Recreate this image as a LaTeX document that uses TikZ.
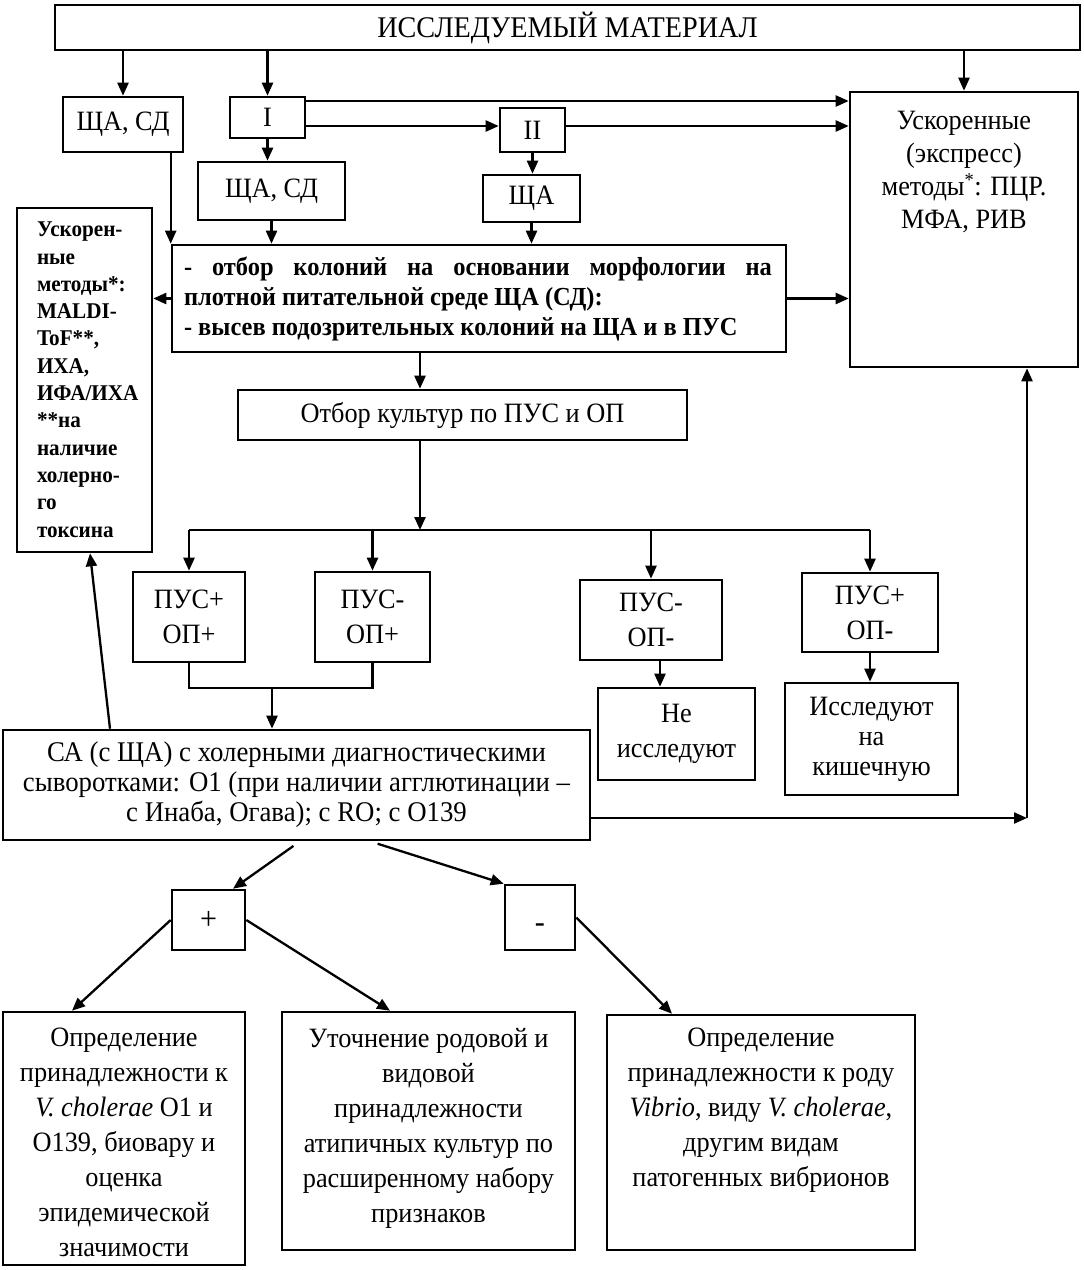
\documentclass[tikz,border=0pt]{standalone}
\usepackage{fontspec}
\setmainfont{Liberation Serif}[FakeStretch=0.94]
\usetikzlibrary{arrows.meta,calc}
\newcommand{\fs}{\fontsize{28}{33}\selectfont}
\begin{document}
\begin{tikzpicture}[x=1pt,y=-1pt,
  box/.style={draw, line width=2.6pt, inner sep=0pt, align=center, font=\fs},
  sbox/.style={draw, line width=2.6pt, inner sep=0pt, font=\fontsize{32}{34}\selectfont},
  arr/.style={line width=2.3pt, -{Triangle[length=13pt,width=11pt]}},
  ln/.style={line width=2.3pt}]
\useasboundingbox (0,0) rectangle (1084,1270);

% boxes
\node[box, minimum width=1025pt, minimum height=45pt, font=\fontsize{30}{34}\selectfont] (top) at (567.5,27.5) {ИССЛЕДУЕМЫЙ МАТЕРИАЛ};
\node[box, minimum width=120pt, minimum height=55pt] (sd1) at (123,124.5) {ЩА, СД};
\node[box, minimum width=75pt, minimum height=41pt] (one) at (267.5,117.5) {I};
\node[box, minimum width=65pt, minimum height=44pt] (two) at (532.5,130) {II};
\node[box, font=\fontsize{28}{33}\selectfont] (right) at (964,229.5) {\parbox[c][275pt][t]{228pt}{\centering\vspace*{19pt}Ускоренные\\(экспресс)\\методы\textsuperscript{*}: ПЦР.\\МФА, РИВ}};
\node[box, minimum width=147pt, minimum height=58pt] (sd2) at (271.5,191) {ЩА, СД};
\node[box, minimum width=97pt, minimum height=47pt] (shA) at (531.5,198.5) {ЩА};
\node[box, font=\bfseries\fontsize{26}{30}\selectfont] (big) at (479,298.5) {\parbox[c][107pt][c]{614pt}{\leftskip=12pt\rightskip=14pt\noindent - отбор колоний на основании морфологии на \linebreak плотной питательной среде ЩА (СД):\\- высев подозрительных колоний на ЩА и в ПУС}};
\node[box, font=\bfseries\fontsize{22.5}{27.3}\selectfont] (left) at (84.5,380) {\parbox[c][344pt][t]{135pt}{\raggedright\leftskip=20pt\vspace*{14pt}Ускорен-\\ные\\методы*:\\MALDI-\\ToF**,\\ИХА,\\ИФА/ИХА\\{}**на\\наличие\\холерно-\\го\\токсина}};
\node[box, minimum width=449pt, minimum height=50pt] (otbor) at (462.5,415) {Отбор культур по ПУС и ОП};
\node[box, minimum width=112pt, minimum height=90pt, font=\fontsize{28}{35}\selectfont] (p1) at (189,617) {ПУС+\\ОП+};
\node[box, minimum width=115pt, minimum height=90pt, font=\fontsize{28}{35}\selectfont] (p2) at (372.5,617) {ПУС-\\ОП+};
\node[box, minimum width=142pt, minimum height=80pt, font=\fontsize{28}{35}\selectfont] (p3) at (651,620) {ПУС-\\ОП-};
\node[box, minimum width=136pt, minimum height=79pt, font=\fontsize{28}{35}\selectfont] (p4) at (870,612.5) {ПУС+\\ОП-};
\node[box, minimum width=157pt, minimum height=92pt, font=\fontsize{28}{35}\selectfont] (ne) at (676.5,734) {Не\\исследуют};
\node[box, minimum width=173pt, minimum height=112pt, font=\fontsize{28}{30}\selectfont] (isl) at (871.5,739) {Исследуют\\на\\кишечную};
\node[box, minimum width=587pt, minimum height=110pt, font=\fontsize{28.5}{30}\selectfont] (ca) at (296.5,785) {СА (с ЩА) с холерными диагностическими\\сыворотками: О1 (при наличии агглютинации –\\с Инаба, Огава); с RO; с O139};
\node[sbox, minimum width=73pt, minimum height=60pt] (plus) at (208.5,920) {+};
\node[sbox, minimum width=70pt, minimum height=65pt, text height=29pt, text depth=0pt] (minus) at (540,917.5) {-};
\node[box, font=\fontsize{28}{35}\selectfont] (bA) at (124,1138.5) {\parbox[c][253pt][t]{242pt}{\centering\vspace*{16pt}Определение\\принадлежности к\\\textit{V. cholerae} O1 и\\O139, биовару и\\оценка\\эпидемической\\значимости}};
\node[box, font=\fontsize{28}{35}\selectfont] (bB) at (428.5,1131) {\parbox[c][238pt][t]{293pt}{\centering\vspace*{16pt}Уточнение родовой и\\видовой\\принадлежности\\атипичных культур по\\расширенному набору\\признаков}};
\node[box, font=\fontsize{28}{35}\selectfont] (bC) at (761,1132.5) {\parbox[c][235pt][t]{308pt}{\centering\vspace*{13pt}Определение\\принадлежности к роду\\\textit{Vibrio}, виду \textit{V. cholerae},\\другим видам\\патогенных вибрионов}};

% helper coordinates
\coordinate (h1) at (0,101);
\coordinate (h2) at (0,126);
\coordinate (xb) at (420,0);
\coordinate (busM) at (420,530);
\coordinate (busL) at (189,530);
\coordinate (busR) at (870,530);
\coordinate (jy) at (0,688);
\coordinate (join) at (272,688);
\coordinate (xn) at (660,0);
\coordinate (cr) at (1027,818);
\coordinate (xl1) at (110,0);
\coordinate (xl2) at (90,0);
\coordinate (sx1) at (300,0);
\coordinate (sx2) at (370,0);
\coordinate (e1) at (233,0);
\coordinate (xa) at (72,0);
\coordinate (xbB) at (390,0);
\coordinate (xc) at (672,0);

% connectors
\draw[arr] (top.south -| sd1.north) -- (sd1.north);
\draw[arr] (top.south -| one.north) -- (one.north);
\draw[arr] (top.south -| right.north) -- (right.north);
\draw[arr] (one.east |- h1) -- (right.west |- h1);
\draw[arr] (one.east |- h2) -- (two.west |- h2);
\draw[arr] (two.east |- h2) -- (right.west |- h2);
\draw[arr] (one.south) -- (one.south |- sd2.north);
\draw[arr] (two.south) -- (two.south |- shA.north);
\draw[arr] (sd2.south) -- (sd2.south |- big.north);
\draw[arr] (shA.south) -- (shA.south |- big.north);
\draw[arr] (sd1.south -| big.west) -- (big.north west);
\draw[arr] (big.west) -- (left.east |- big.west);
\draw[arr] (big.east) -- (right.west |- big.east);
\draw[arr] (big.south -| xb) -- (otbor.north -| xb);
\draw[arr] (otbor.south -| xb) -- (busM);
\draw[ln] (busL) -- (busR);
\draw[arr] (p1.north |- busL) -- (p1.north);
\draw[arr] (p2.north |- busL) -- (p2.north);
\draw[arr] (p3.north |- busL) -- (p3.north);
\draw[arr] (p4.north |- busL) -- (p4.north);
\draw[ln] (p1.south) -- (p1.south |- jy) -- (p2.south |- jy) -- (p2.south);
\draw[arr] (join) -- (join |- ca.north);
\draw[arr] (p3.south -| xn) -- (ne.north -| xn);
\draw[arr] (p4.south) -- (p4.south |- isl.north);
\draw[arr] (ca.east |- cr) -- (cr);
\draw[arr] (cr) -- (right.south -| cr);
\draw[arr] (ca.north -| xl1) -- (left.south -| xl2);
\draw[arr, shorten <=8pt] (ca.south -| sx1) -- (plus.north -| e1);
\draw[arr, shorten <=8pt] (ca.south -| sx2) -- (minus.north west);
\draw[arr] (plus.west) -- (bA.north -| xa);
\draw[arr] (plus.east) -- (bB.north -| xbB);
\draw[arr] (minus.east) -- (bC.north -| xc);
\end{tikzpicture}
\end{document}
